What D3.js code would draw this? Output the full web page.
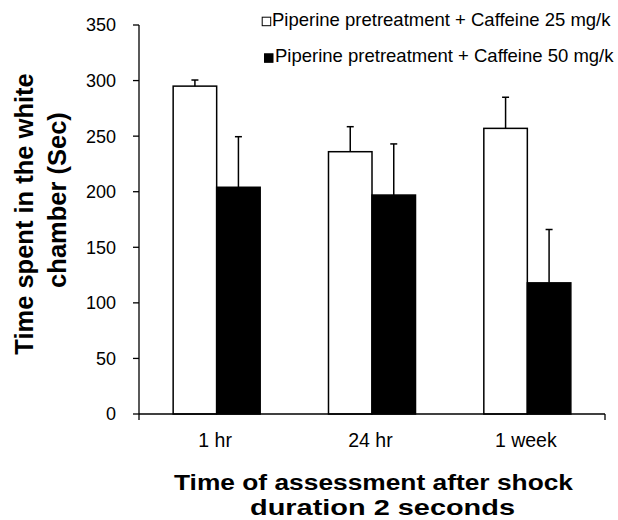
<!DOCTYPE html>
<html>
<head>
<meta charset="utf-8">
<script src="https://cdn.jsdelivr.net/npm/d3@7"></script>
<style>
  html, body { margin: 0; padding: 0; background: #fff; }
  svg { display: block; font-family: "Liberation Sans", Arial, sans-serif; }
</style>
</head>
<body>
<svg id="chart" width="618" height="520"></svg>
<script>
const categories = ["1 hr", "24 hr", "1 week"];
const seriesNames = ["Piperine pretreatment + Caffeine 25 mg/k", "Piperine pretreatment + Caffeine 50 mg/k"];
const caffeine25 = [295, 236, 257];
const caffeine25Err = [5.5, 22.5, 28];
const caffeine50 = [204, 197, 118];
const caffeine50Err = [45.5, 46, 48];
const yTicks = [0, 50, 100, 150, 200, 250, 300, 350];
const yTitleLines = ["Time spent in the white", "chamber (Sec)"];
const xTitleLines = ["Time of assessment after shock", "duration 2 seconds"];

const series = [
  { name: seriesNames[0], values: caffeine25, errs: caffeine25Err, fill: "#fff" },
  { name: seriesNames[1], values: caffeine50, errs: caffeine50Err, fill: "#000" }
];

const svg = d3.select("#chart");

const y = d3.scaleLinear().domain([0, 350]).range([414, 25]);
const x0 = d3.scaleBand().domain(categories).range([139, 605]).paddingInner(0).paddingOuter(0);
const x1 = d3.scaleBand().domain([0, 1]).range([0, x0.bandwidth()]).paddingInner(0).paddingOuter(0.785);

// bars
series.forEach((s, si) => {
  const g = svg.append("g");
  g.selectAll("rect").data(categories).join("rect")
    .attr("x", (c) => x0(c) + x1(si))
    .attr("y", (c, i) => y(s.values[i]))
    .attr("width", x1.bandwidth())
    .attr("height", (c, i) => y(0) - y(s.values[i]))
    .attr("fill", s.fill)
    .attr("stroke", "#000")
    .attr("stroke-width", 1.5);
  // error bars
  const eg = svg.append("g").attr("stroke", "#000").attr("stroke-width", 1.5);
  categories.forEach((c, i) => {
    const cx = x0(c) + x1(si) + x1.bandwidth() / 2;
    eg.append("line").attr("x1", cx).attr("x2", cx)
      .attr("y1", y(s.values[i])).attr("y2", y(s.values[i] + s.errs[i]));
    eg.append("line").attr("x1", cx - 3.5).attr("x2", cx + 3.5)
      .attr("y1", y(s.values[i] + s.errs[i])).attr("y2", y(s.values[i] + s.errs[i]));
  });
});

// y axis
const yAxis = svg.append("g");
yAxis.append("line").attr("x1", 139).attr("x2", 139).attr("y1", y(350)).attr("y2", y(0) + 6)
  .attr("stroke", "#000").attr("stroke-width", 1.3);
yAxis.selectAll("line.tick").data(yTicks).join("line").attr("class", "tick")
  .attr("x1", 133).attr("x2", 139).attr("y1", (d) => y(d)).attr("y2", (d) => y(d))
  .attr("stroke", "#000").attr("stroke-width", 1.3);
yAxis.selectAll("text").data(yTicks).join("text")
  .attr("x", 116).attr("y", (d) => y(d)).attr("dy", "0.36em")
  .attr("text-anchor", "end").attr("font-size", 18).attr("fill", "#000")
  .text((d) => d);

// x axis
const xAxis = svg.append("g");
xAxis.append("line").attr("x1", 139).attr("x2", 605).attr("y1", y(0)).attr("y2", y(0))
  .attr("stroke", "#000").attr("stroke-width", 1.3);
xAxis.append("line").attr("x1", 605).attr("x2", 605).attr("y1", y(0)).attr("y2", y(0) + 6)
  .attr("stroke", "#000").attr("stroke-width", 1.3);
xAxis.selectAll("text").data(categories).join("text")
  .attr("x", (c) => x0(c) + x0.bandwidth() / 2 - 1.5).attr("y", 446.5)
  .attr("text-anchor", "middle").attr("font-size", 19.5).attr("fill", "#000")
  .text((d) => d);

// x title
const xtPos = [[373.5, 489.5, 399], [382.5, 515, 265]];
svg.selectAll("text.xtitle").data(xTitleLines).join("text").attr("class", "xtitle")
  .attr("x", (d, i) => xtPos[i][0]).attr("y", (d, i) => xtPos[i][1])
  .attr("text-anchor", "middle").attr("font-size", 22.5).attr("font-weight", "bold").attr("fill", "#000")
  .attr("textLength", (d, i) => xtPos[i][2]).attr("lengthAdjust", "spacingAndGlyphs")
  .text((d) => d);

// y title
const ytPos = [[33, 214], [66, 200]];
svg.selectAll("text.ytitle").data(yTitleLines).join("text").attr("class", "ytitle")
  .attr("transform", (d, i) => `translate(${ytPos[i][0]},${ytPos[i][1]}) rotate(-90)`)
  .attr("text-anchor", "middle").attr("font-size", 25.5).attr("font-weight", "bold").attr("fill", "#000")
  .text((d) => d);

// legend
const legPos = [[261.7, 16.7, 272, 25.7], [264, 53.3, 275, 62.3]];
series.forEach((s, i) => {
  const p = legPos[i];
  svg.append("rect").attr("x", p[0] + 0.5).attr("y", p[1] + 0.5).attr("width", 8.5).attr("height", 8.5)
    .attr("fill", s.fill).attr("stroke", "#000").attr("stroke-width", 1);
  svg.append("text").attr("x", p[2]).attr("y", p[3]).attr("font-size", 18.5).attr("fill", "#000")
    .text(s.name);
});
</script>
</body>
</html>
